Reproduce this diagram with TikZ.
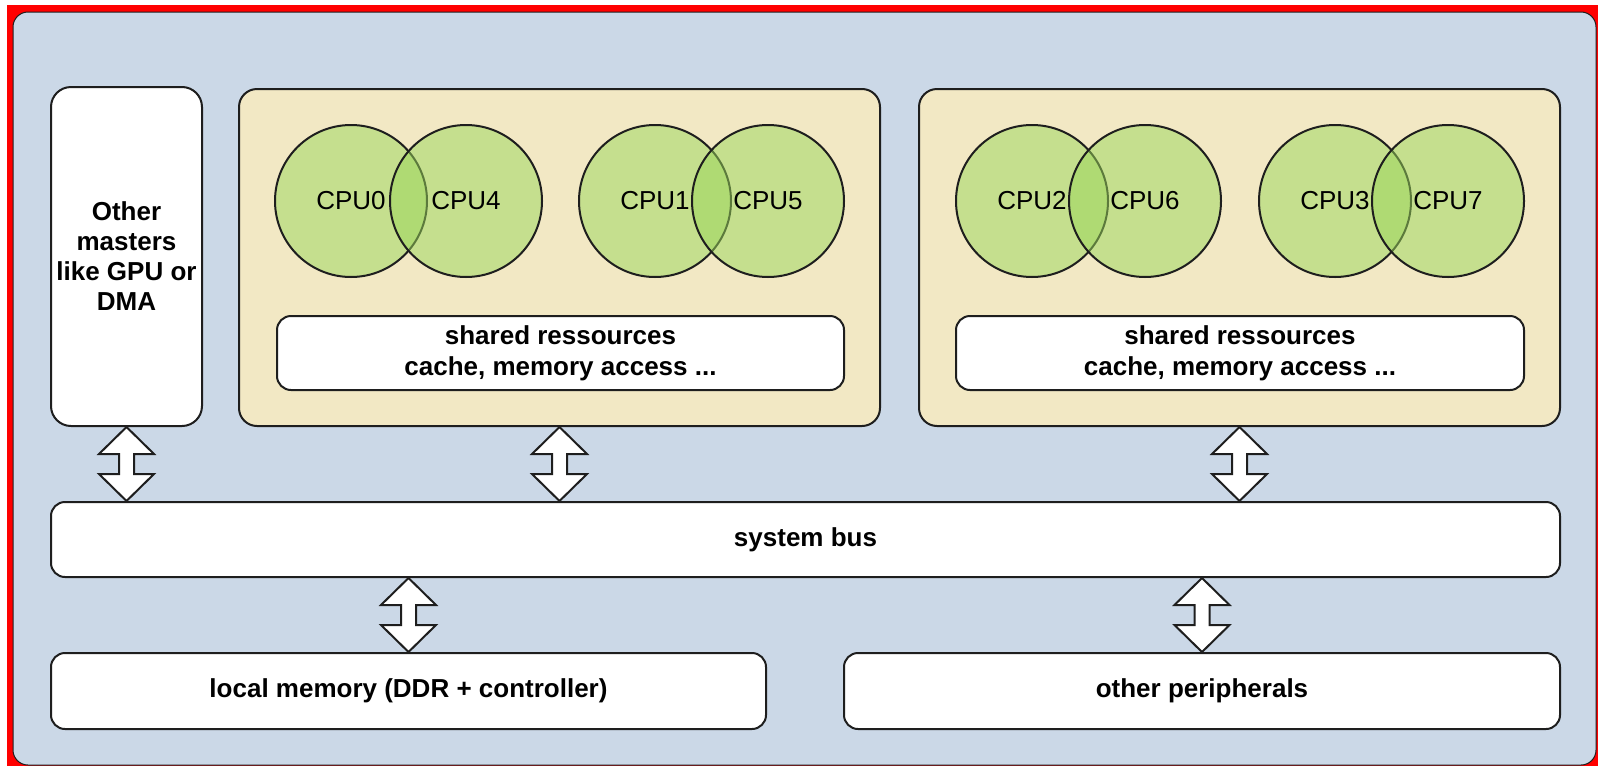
\documentclass[tikz,border=0pt]{standalone}
\usepackage{fontspec}
\setmainfont{Liberation Sans}
\usetikzlibrary{calc}
\definecolor{bgblue}{RGB}{203,216,231}
\definecolor{clustertan}{RGB}{242,232,196}
\definecolor{cpugreen}{RGB}{154,215,90}
\definecolor{framered}{RGB}{255,0,0}
\definecolor{edge}{RGB}{30,30,30}
\newcommand\diafont{\fontsize{26}{30}\selectfont}
\newcommand\dblarrow[2]{%
  \draw[barrow] let \p1=(#1), \p2=(#2) in
    (\p1) -- (\x1+27.5pt,\y1-27pt) -- (\x1+7.5pt,\y1-27pt) -- (\x1+7.5pt,\y2+27pt)
    -- (\x1+27.5pt,\y2+27pt) -- (\p2) -- (\x1-27.5pt,\y2+27pt) -- (\x1-7.5pt,\y2+27pt)
    -- (\x1-7.5pt,\y1-27pt) -- (\x1-27.5pt,\y1-27pt) -- cycle;}
\begin{document}
\begin{tikzpicture}[x=1pt,y=-1pt,
  box/.style={draw=edge,line width=2pt,fill=white,rounded corners=14pt,font=\diafont\bfseries,align=center,inner sep=0pt},
  cluster/.style={draw=edge,line width=2pt,fill=clustertan,rounded corners=18pt,inner sep=0pt},
  cpu/.style={circle,draw=edge,line width=2pt,fill=cpugreen,fill opacity=0.5,text opacity=1,minimum size=152pt,inner sep=0pt,font=\diafont},
  barrow/.style={draw=edge,line width=2pt,fill=white,line join=miter}]
\useasboundingbox (0,0) rectangle (1598,766);
% frame and background
\fill[framered] (7,5) rectangle (1598,766);
\draw[draw=edge,line width=1pt,fill=bgblue,rounded corners=15pt] (13,12) rectangle (1596,765);
% other masters
\node[box,rounded corners=20pt,minimum width=151pt,minimum height=339pt] (om) at (126.5,256.5)
  {Other\\masters\\like GPU or\\DMA};
% clusters
\node[cluster,minimum width=641pt,minimum height=337pt] (c1) at (559.5,257.5) {};
\node[cluster,minimum width=641pt,minimum height=337pt] (c2) at (1239.5,257.5) {};
% shared resources
\node[box,minimum width=567pt,minimum height=74pt,font=\fontsize{26}{31}\selectfont\bfseries] (sr1) at (560.5,353)
  {shared ressources\\cache, memory access ...};
\node[box,minimum width=568pt,minimum height=74pt,font=\fontsize{26}{31}\selectfont\bfseries] (sr2) at (1240,353)
  {shared ressources\\cache, memory access ...};
% CPUs
\node[cpu] (cpu0) at (351,201) {CPU0};
\node[cpu] (cpu4) at (466,201) {CPU4};
\node[cpu] (cpu1) at (655,201) {CPU1};
\node[cpu] (cpu5) at (768,201) {CPU5};
\node[cpu] (cpu2) at (1032,201) {CPU2};
\node[cpu] (cpu6) at (1145,201) {CPU6};
\node[cpu] (cpu3) at (1335,201) {CPU3};
\node[cpu] (cpu7) at (1448,201) {CPU7};
% bus and bottom boxes
\node[box,minimum width=1509pt,minimum height=75pt] (bus) at (805.5,539.5) {system bus};
\node[box,minimum width=715pt,minimum height=76pt] (mem) at (408.5,691) {local memory (DDR + controller)};
\node[box,minimum width=716pt,minimum height=76pt] (per) at (1202,691) {other peripherals};
% double arrows
\dblarrow{om.south}{om.south |- bus.north}
\dblarrow{c1.south}{c1.south |- bus.north}
\dblarrow{c2.south}{c2.south |- bus.north}
\dblarrow{mem.north |- bus.south}{mem.north}
\dblarrow{per.north |- bus.south}{per.north}
\end{tikzpicture}
\end{document}
